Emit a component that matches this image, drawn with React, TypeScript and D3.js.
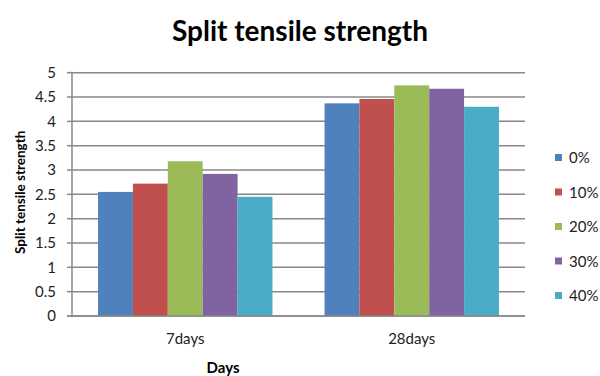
import React from "react";
import * as d3 from "d3";

const categories = ["7days", "28days"];
const seriesNames = ["0%", "10%", "20%", "30%", "40%"];
const values0 = [2.55, 4.37];
const values10 = [2.72, 4.46];
const values20 = [3.18, 4.74];
const values30 = [2.92, 4.67];
const values40 = [2.45, 4.3];
const yTicks = [0, 0.5, 1, 1.5, 2, 2.5, 3, 3.5, 4, 4.5, 5];
const colors = ["#4F81BD", "#C0504D", "#9BBB59", "#8064A2", "#4BACC6"];

const seriesValues = [values0, values10, values20, values30, values40];

const W = 600;
const H = 376;
const left = 72;
const right = 525;
const top = 72.7;
const bottom = 316;
const FONT = "Lato, 'Open Sans', sans-serif";

export default function App() {
  const x0 = d3.scaleBand<string>().domain(categories).range([left, right]).paddingInner(0.23).paddingOuter(0.115);
  const x1 = d3.scaleBand<string>().domain(seriesNames).range([0, x0.bandwidth()]);
  const y = d3.scaleLinear().domain([0, 5]).range([bottom, top]);
  const fmt = (v: number) => String(v);

  return (
    <svg width={W} height={H} style={{ position: "absolute", left: 0, top: 0, background: "#fff" }}>
      <text x={300} y={41} textAnchor="middle" fontFamily={FONT} fontWeight="bold" fontSize={28} fill="#000">
        Split tensile strength
      </text>
      {yTicks.map((t) => (
        <g key={t}>
          <line x1={left} x2={right} y1={y(t)} y2={y(t)} stroke="#888" strokeWidth={1.5} />
          <line x1={left - 5} x2={left} y1={y(t)} y2={y(t)} stroke="#888" strokeWidth={1.5} />
          <text x={left - 16} y={y(t)} dy="0.35em" textAnchor="end" fontFamily={FONT} fontSize={15} fill="#222">
            {fmt(t)}
          </text>
        </g>
      ))}
      <line x1={left} x2={left} y1={top - 1} y2={bottom} stroke="#888" strokeWidth={1.5} />
      {categories.map((c, ci) => (
        <g key={c}>
          {seriesNames.map((s, si) => (
            <rect
              key={s}
              x={(x0(c) as number) + (x1(s) as number)}
              y={y(seriesValues[si][ci])}
              width={x1.bandwidth()}
              height={bottom - y(seriesValues[si][ci])}
              fill={colors[si]}
            />
          ))}
          <text x={(x0(c) as number) + x0.bandwidth() / 2} y={344} textAnchor="middle" fontFamily={FONT} fontSize={15} fill="#222">
            {c}
          </text>
        </g>
      ))}
      <line x1={left - 5} x2={right} y1={bottom} y2={bottom} stroke="#888" strokeWidth={1.5} />
      <text x={223} y={373} textAnchor="middle" fontFamily={FONT} fontWeight="bold" fontSize={15} fill="#000">
        Days
      </text>
      <text
        transform={`translate(25,${(top + bottom) / 2 - 2}) rotate(-90)`}
        textAnchor="middle"
        fontFamily={FONT}
        fontWeight="bold"
        fontSize={13.5}
        fill="#000"
      >
        Split tensile strength
      </text>
      {seriesNames.map((s, i) => {
        const ly = 158 + i * 34.5;
        return (
          <g key={s}>
            <rect x={555} y={ly - 4} width={7} height={7} fill={colors[i]} />
            <text x={569} y={ly} dy="0.35em" fontFamily={FONT} fontSize={15} fill="#222">
              {s}
            </text>
          </g>
        );
      })}
    </svg>
  );
}
